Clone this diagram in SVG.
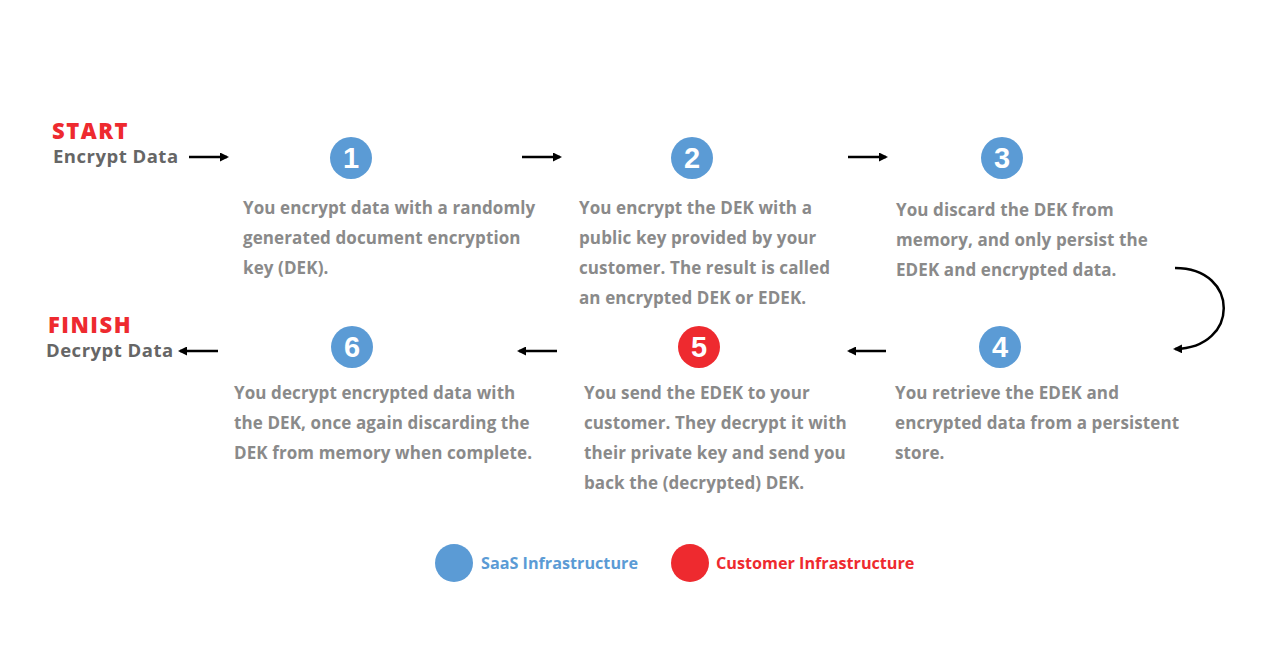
<svg xmlns="http://www.w3.org/2000/svg" width="1280" height="662" viewBox="0 0 1280 662">
<defs>
<marker id="ah" markerWidth="9" markerHeight="9" refX="7" refY="4.5" orient="auto" markerUnits="userSpaceOnUse">
<path d="M0,0 L9,4.5 L0,9 Z" fill="#000"/>
</marker>
<style>
.num{font-family:"Liberation Sans",Arial,sans-serif;font-weight:bold;font-size:29px;fill:#fff;text-anchor:middle}
.desc{font-family:"Open Sans","Liberation Sans",sans-serif;font-weight:bold;font-size:17px;letter-spacing:0.1px;fill:#8a8a8a}
.head{font-family:"Open Sans","Liberation Sans",sans-serif;font-weight:800;font-size:22px;letter-spacing:1.5px;fill:#ee2a2f}
.sub{font-family:"Open Sans","Liberation Sans",sans-serif;font-weight:bold;font-size:18.5px;letter-spacing:0.5px;fill:#666}
.blue{fill:#5b9bd5}
.red{fill:#ee2a2f}
.conn{stroke:#000;stroke-width:2.5;fill:none;marker-end:url(#ah)}
.leg{font-family:"Open Sans","Liberation Sans",sans-serif;font-weight:bold;font-size:16.2px}
</style>
</defs>
<rect width="1280" height="662" fill="#fff"/>
<g id="start">
<text class="head" x="52" y="139">START</text>
<text class="sub" x="53" y="163">Encrypt Data</text>
</g>
<g id="finish">
<text class="head" x="48" y="333">FINISH</text>
<text class="sub" x="46" y="357">Decrypt Data</text>
</g>
<g id="step1">
<circle class="blue" cx="351" cy="158" r="21"/>
<text class="num" x="351" y="168">1</text>
<text class="desc" x="243" y="214">You encrypt data with a randomly</text>
<text class="desc" x="243" y="244">generated document encryption</text>
<text class="desc" x="243" y="274">key (DEK).</text>
</g>
<g id="step2">
<circle class="blue" cx="692" cy="158" r="21"/>
<text class="num" x="692" y="168">2</text>
<text class="desc" x="579" y="214">You encrypt the DEK with a</text>
<text class="desc" x="579" y="244">public key provided by your</text>
<text class="desc" x="579" y="274">customer. The result is called</text>
<text class="desc" x="579" y="304">an encrypted DEK or EDEK.</text>
</g>
<g id="step3">
<circle class="blue" cx="1002" cy="158" r="21"/>
<text class="num" x="1002" y="168">3</text>
<text class="desc" x="896" y="216">You discard the DEK from</text>
<text class="desc" x="896" y="246">memory, and only persist the</text>
<text class="desc" x="896" y="276">EDEK and encrypted data.</text>
</g>
<g id="step4">
<circle class="blue" cx="1000" cy="347" r="21"/>
<text class="num" x="1000" y="357">4</text>
<text class="desc" x="895" y="399">You retrieve the EDEK and</text>
<text class="desc" x="895" y="429">encrypted data from a persistent</text>
<text class="desc" x="895" y="459">store.</text>
</g>
<g id="step5">
<circle class="red" cx="699" cy="347" r="21"/>
<text class="num" x="699" y="357">5</text>
<text class="desc" x="584" y="399">You send the EDEK to your</text>
<text class="desc" x="584" y="429">customer. They decrypt it with</text>
<text class="desc" x="584" y="459">their private key and send you</text>
<text class="desc" x="584" y="489">back the (decrypted) DEK.</text>
</g>
<g id="step6">
<circle class="blue" cx="352" cy="347" r="21"/>
<text class="num" x="352" y="357">6</text>
<text class="desc" x="234" y="399">You decrypt encrypted data with</text>
<text class="desc" x="234" y="429">the DEK, once again discarding the</text>
<text class="desc" x="234" y="459">DEK from memory when complete.</text>
</g>
<g id="connectors">
<path class="conn" d="M189,157 L227,157"/>
<path class="conn" d="M522,157 L560,157"/>
<path class="conn" d="M848,157 L886,157"/>
<path class="conn" d="M1175,268 C1240,268 1240,348 1175,349"/>
<path class="conn" d="M886,351 L849,351"/>
<path class="conn" d="M557,351 L519,351"/>
<path class="conn" d="M218,351 L180,351"/>
</g>
<g id="legend">
<circle class="blue" cx="454" cy="563" r="19"/>
<text class="leg" x="481" y="569" fill="#5b9bd5">SaaS Infrastructure</text>
<circle class="red" cx="690" cy="563" r="19"/>
<text class="leg" x="716" y="569" fill="#ee2a2f">Customer Infrastructure</text>
</g>
</svg>
